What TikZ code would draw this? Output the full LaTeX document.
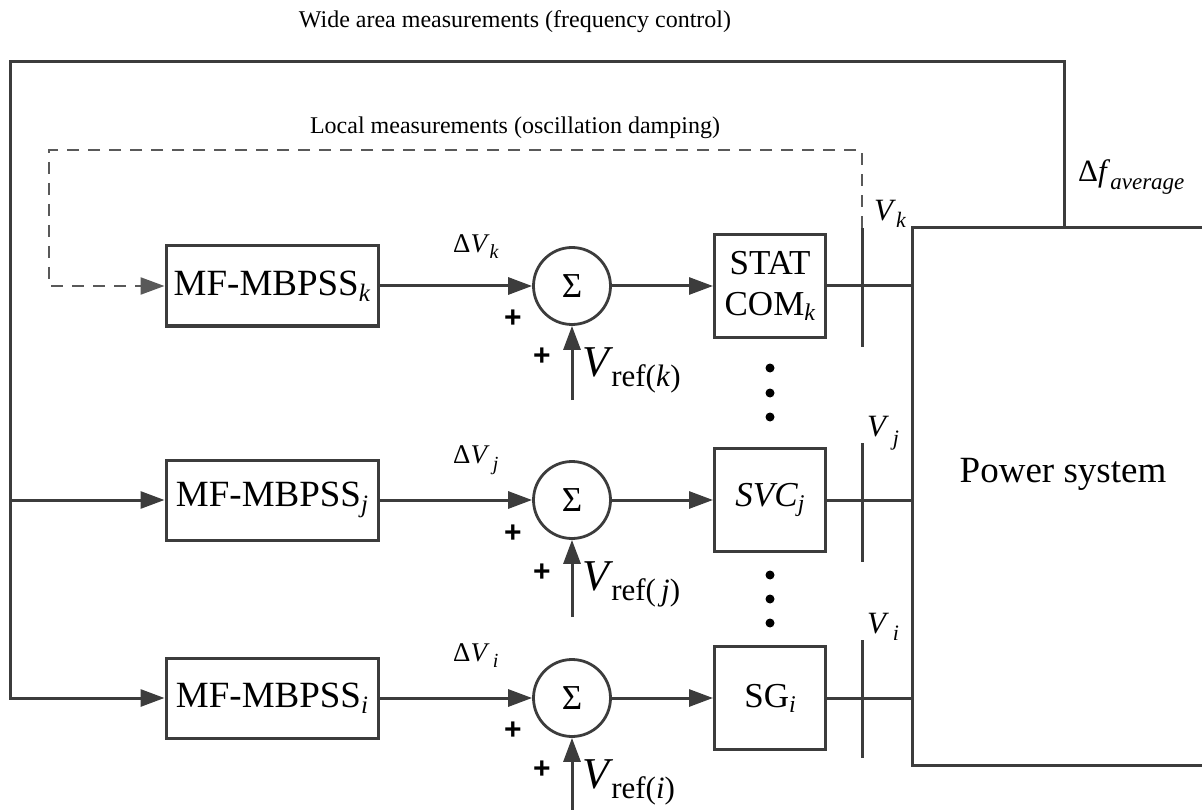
\documentclass[tikz,border=0pt]{standalone}
\usepackage{fontspec}
\setmainfont{Liberation Serif}
\newfontfamily\plusfont{Liberation Sans}
\usetikzlibrary{arrows.meta}
\definecolor{linec}{HTML}{3C3C3C}
\newcommand{\myfs}[1]{\fontsize{#1}{#1}\selectfont}
\newcommand{\msub}[3]{\raisebox{-#1}{\myfs{#2}#3}}
\begin{document}
\begin{tikzpicture}[x=1pt,y=-1pt,
  wire/.style={draw=linec, line width=3pt},
  sig/.style={wire, -{Triangle[length=24pt,width=17pt]}},
  dsig/.style={draw=linec!85, line width=2.4pt, dash pattern=on 12pt off 9pt, -{Triangle[length=24pt,width=17pt]}},
  blk/.style={draw=linec, line width=3pt, minimum width=212pt, minimum height=80pt, inner sep=0pt, font=\myfs{37}},
  dev/.style={draw=linec, line width=3pt, minimum width=111pt, minimum height=103pt, inner sep=0pt, font=\myfs{35}},
  sumc/.style={draw=linec, line width=2.8pt, circle, minimum size=77pt, inner sep=0pt, font=\myfs{35}},
  lbl/.style={inner sep=0pt, font=\myfs{24}},
  plus/.style={inner sep=0pt, font=\plusfont\bfseries\myfs{30}},
  dot/.style={circle, fill=black, minimum size=9pt, inner sep=0pt},
]
\useasboundingbox (0,0) rectangle (1202,810);

% titles
\node[lbl] (wide) at (515,22) {Wide area measurements (frequency control)};
\node[lbl] (local) at (515,128) {Local measurements (oscillation damping)};

% controller blocks
\node[blk] (mk) at (272,286) {MF-MBPSS\msub{6pt}{25}{\textit{k}}};
\node[blk] (mj) at (272,500) {MF-MBPSS\msub{6pt}{25}{\textit{j}}};
\node[blk] (mi) at (272,698) {MF-MBPSS\msub{6pt}{25}{\textit{i}}};

% summing junctions
\node[sumc] (sk) at (572,286) {Σ};
\node[sumc] (sj) at (572,500) {Σ};
\node[sumc] (si) at (572,698) {Σ};

% devices
\node[dev, align=center, font=\fontsize{35}{41}\selectfont] (dk) at (770,286) {STAT\\COM\msub{5pt}{24}{\textit{k}}};
\node[dev] (dj) at (770,500) {\textit{SVC}\msub{5pt}{24}{\textit{j}}};
\node[dev] (di) at (770,698) {SG\msub{5pt}{24}{\textit{i}}};

% power system
\node[minimum width=290pt, minimum height=537pt, anchor=north west, inner sep=0pt] (ps) at (912,228) {};
\draw[wire] (ps.north east) -- (ps.north west) -- (ps.south west) -- (ps.south east);
\node[inner sep=0pt, font=\myfs{37}] (pstext) at (1063,474) {Power system};

% bus bars
\coordinate (bkt) at (862,228); \coordinate (bkb) at (862,347);
\coordinate (bjt) at (862,443); \coordinate (bjb) at (862,562);
\coordinate (bit) at (862,640); \coordinate (bib) at (862,758);
\draw[wire] (bkt) -- (bkb);
\draw[wire] (bjt) -- (bjb);
\draw[wire] (bit) -- (bib);

% device to power system lines
\draw[wire] (dk.east) -- (dk.east -| ps.west);
\draw[wire] (dj.east) -- (dj.east -| ps.west);
\draw[wire] (di.east) -- (di.east -| ps.west);

% wide area loop
\coordinate (fa) at (1064,228);
\coordinate (tl) at (10,62);
\draw[sig] (fa) |- (tl) |- (mi.west);
\draw[sig] (tl |- mj.west) -- (mj.west);
\node[anchor=base west, inner sep=0pt] (df) at (1078,182) {\myfs{31}Δ\textit{f}\msub{8pt}{23}{\textit{average}}};

% local dashed loop
\coordinate (dtr) at (862,150);
\coordinate (dtl) at (49,150);
\draw[dsig] (bkt) -- (dtr) -- (dtl) |- (mk.west);

% signal path arrows
\draw[sig] (mk.east) -- (sk.west);
\draw[sig] (mj.east) -- (sj.west);
\draw[sig] (mi.east) -- (si.west);
\draw[sig] (sk.east) -- (dk.west);
\draw[sig] (sj.east) -- (dj.west);
\draw[sig] (si.east) -- (di.west);

% reference inputs
\coordinate (rk) at (572,400);
\coordinate (rj) at (572,617);
\coordinate (ri) at (572,812);
\draw[sig] (rk) -- (sk.south);
\draw[sig] (rj) -- (sj.south);
\draw[sig] (ri) -- (si.south);

\node[anchor=base west, inner sep=0pt] (vrk) at (582,376) {\myfs{44}\textit{V}\kern-2pt\msub{10pt}{31}{ref(\textit{k})}};
\node[anchor=base west, inner sep=0pt] (vrj) at (582,590) {\myfs{44}\textit{V}\kern-2pt\msub{10pt}{31}{ref(\,\textit{j})}};
\node[anchor=base west, inner sep=0pt] (vri) at (582,788) {\myfs{44}\textit{V}\kern-2pt\msub{10pt}{31}{ref(\textit{i})}};

% plus signs
\node[plus] (pk1) at (513,319) {+};
\node[plus] (pk2) at (542,357) {+};
\node[plus] (pj1) at (513,534) {+};
\node[plus] (pj2) at (542,573) {+};
\node[plus] (pi1) at (513,731) {+};
\node[plus] (pi2) at (542,770) {+};

% delta V labels
\node[anchor=base west, inner sep=0pt] (dvk) at (453,253) {\myfs{27}Δ\textit{V}\msub{6pt}{20}{\textit{k}}};
\node[anchor=base west, inner sep=0pt] (dvj) at (453,463) {\myfs{27}Δ\textit{V}\msub{7pt}{20}{\,\textit{j}}};
\node[anchor=base west, inner sep=0pt] (dvi) at (453,661) {\myfs{27}Δ\textit{V}\msub{6pt}{20}{\,\textit{i}}};

% bus voltage labels
\node[anchor=base west, inner sep=0pt] (vk) at (874,221) {\myfs{31}\textit{V}\msub{7pt}{22}{\textit{k}}};
\node[anchor=base west, inner sep=0pt] (vj) at (867,436) {\myfs{31}\textit{V}\msub{9pt}{22}{\,\textit{j}}};
\node[anchor=base west, inner sep=0pt] (vi) at (867,633) {\myfs{31}\textit{V}\msub{7pt}{22}{\,\textit{i}}};

% continuation dots
\node[dot] (d1) at (770,368) {};
\node[dot] (d2) at (770,393) {};
\node[dot] (d3) at (770,417) {};
\node[dot] (d4) at (770,575) {};
\node[dot] (d5) at (770,599) {};
\node[dot] (d6) at (770,623) {};
\end{tikzpicture}
\end{document}
